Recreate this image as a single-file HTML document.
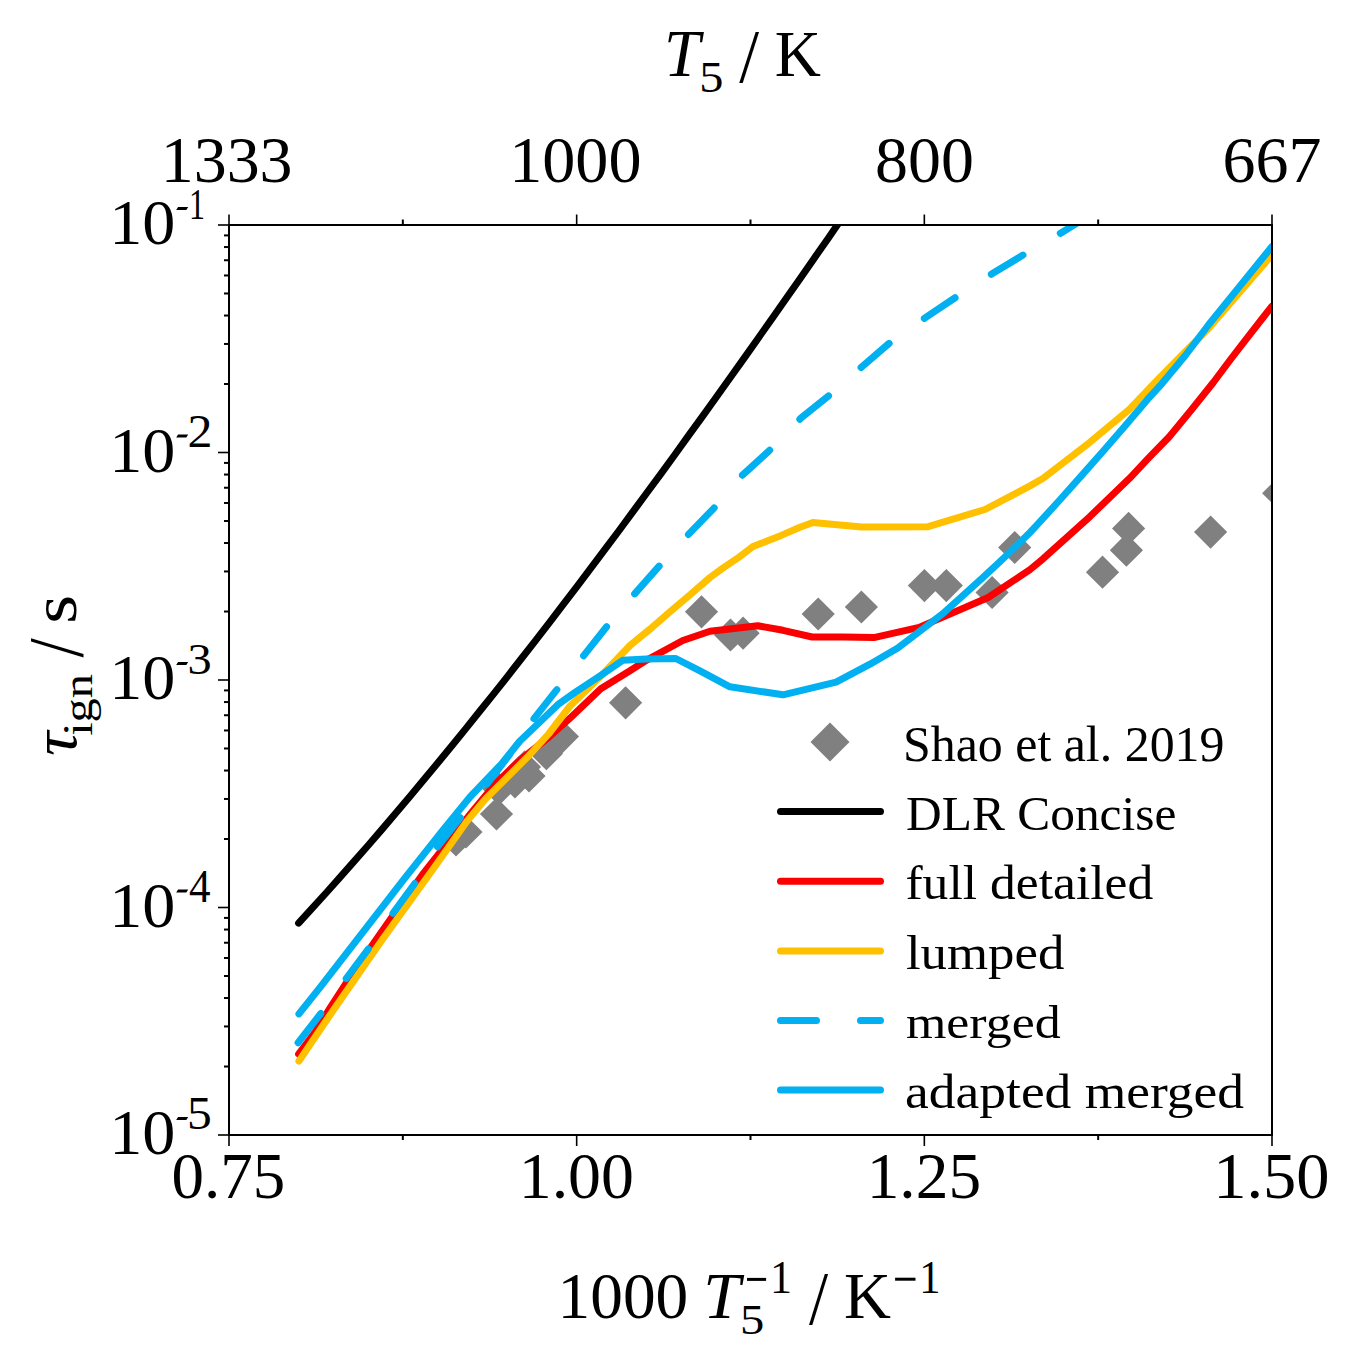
<!DOCTYPE html>
<html><head><meta charset="utf-8"><style>
html,body{margin:0;padding:0;background:#fff;}
svg{display:block;}
</style></head><body>
<svg width="1355" height="1364" viewBox="0 0 1355 1364">
<rect width="1355" height="1364" fill="#fff"/>
<defs><clipPath id="pc"><rect x="229.0" y="225.0" width="1043.0" height="910.0"/></clipPath></defs>
<g clip-path="url(#pc)">
<path d="M456.0 823.4 L472.6 840.0 L456.0 856.6 L439.4 840.0Z M466.0 815.4 L482.6 832.0 L466.0 848.6 L449.4 832.0Z M496.5 797.4 L513.1 814.0 L496.5 830.6 L479.9 814.0Z M499.0 772.4 L515.6 789.0 L499.0 805.6 L482.4 789.0Z M515.0 765.4 L531.6 782.0 L515.0 798.6 L498.4 782.0Z M524.5 750.4 L541.1 767.0 L524.5 783.6 L507.9 767.0Z M529.0 759.4 L545.6 776.0 L529.0 792.6 L512.4 776.0Z M546.4 737.1 L563.0 753.7 L546.4 770.3 L529.8 753.7Z M562.4 720.0 L579.0 736.6 L562.4 753.2 L545.8 736.6Z M625.6 686.2 L642.2 702.8 L625.6 719.4 L609.0 702.8Z M701.5 595.2 L718.1 611.8 L701.5 628.4 L684.9 611.8Z M730.5 618.4 L747.1 635.0 L730.5 651.6 L713.9 635.0Z M743.1 616.6 L759.7 633.2 L743.1 649.8 L726.5 633.2Z M818.2 597.4 L834.8 614.0 L818.2 630.6 L801.6 614.0Z M861.4 590.4 L878.0 607.0 L861.4 623.6 L844.8 607.0Z M924.4 569.0 L941.0 585.6 L924.4 602.2 L907.8 585.6Z M946.3 569.0 L962.9 585.6 L946.3 602.2 L929.7 585.6Z M992.1 575.9 L1008.7 592.5 L992.1 609.1 L975.5 592.5Z M1014.7 530.9 L1031.3 547.5 L1014.7 564.1 L998.1 547.5Z M1102.5 555.6 L1119.1 572.2 L1102.5 588.8 L1085.9 572.2Z M1126.4 533.6 L1143.0 550.2 L1126.4 566.8 L1109.8 550.2Z M1128.6 511.8 L1145.2 528.4 L1128.6 545.0 L1112.0 528.4Z M1210.6 515.5 L1227.2 532.1 L1210.6 548.7 L1194.0 532.1Z M1278.7 476.6 L1295.3 493.2 L1278.7 509.8 L1262.1 493.2Z" fill="#808080"/>
<path d="M298.6 923.1 L312.5 907.9 L326.5 892.5 L340.4 876.9 L354.3 861.1 L368.3 845.2 L382.2 829.1 L396.1 812.7 L410.1 796.3 L424.0 779.6 L437.9 762.8 L451.9 745.8 L465.8 728.6 L479.7 711.3 L493.7 693.9 L507.6 676.3 L521.5 658.5 L535.5 640.6 L549.4 622.6 L563.3 604.4 L577.3 586.1 L591.2 567.7 L605.1 549.1 L619.1 530.5 L633.0 511.7 L646.9 492.8 L660.9 473.8 L674.8 454.7 L688.7 435.4 L702.7 416.1 L716.6 396.7 L730.5 377.2 L744.5 357.6 L758.4 337.9 L772.3 318.2 L786.3 298.3 L800.2 278.4 L814.1 258.4 L828.1 238.4 L842.0 218.2" stroke="#000" fill="none" stroke-width="7" stroke-linecap="round" stroke-linejoin="round"/>
<path d="M298.6 1054.0 L315.3 1031.8 L329.8 1008.4 L347.6 981.0 L374.0 942.8 L390.8 918.7 L422.4 874.7 L470.4 814.0 L494.6 784.7 L520.0 760.0 L548.5 737.5 L570.0 718.2 L600.8 688.8 L630.0 670.8 L646.3 660.3 L682.8 640.5 L710.0 631.3 L729.9 629.0 L757.7 625.7 L783.0 630.3 L812.2 637.0 L842.8 637.0 L873.9 637.6 L919.1 627.4 L988.2 597.5 L1030.0 569.6 L1043.2 558.7 L1089.7 516.8 L1129.6 478.3 L1147.3 459.4 L1169.3 436.7 L1191.3 410.0 L1213.3 382.5 L1230.5 359.5 L1247.0 338.1 L1263.5 317.0 L1272.0 306.2" stroke="#FA0000" fill="none" stroke-width="7" stroke-linecap="round" stroke-linejoin="round"/>
<path d="M298.9 1061.1 L334.3 1008.7 L381.5 940.8 L435.8 865.3 L466.9 821.3 L485.2 799.3 L526.7 757.8 L548.6 734.0 L570.0 706.0 L600.0 677.0 L630.0 645.5 L649.8 629.3 L669.6 612.1 L689.4 595.3 L710.0 577.5 L722.1 568.6 L736.9 558.7 L753.0 546.5 L781.2 535.4 L800.0 527.3 L812.9 522.5 L861.6 527.0 L928.2 526.7 L985.0 509.5 L1030.0 485.9 L1043.2 478.3 L1089.7 442.4 L1129.6 409.2 L1157.5 380.0 L1185.0 352.0 L1208.8 328.3 L1235.2 297.5 L1272.0 255.0" stroke="#FFC000" fill="none" stroke-width="7" stroke-linecap="round" stroke-linejoin="round"/>
<path d="M298.1 1042.7 L321.7 1012.4 L346.8 977.7 L369.0 948.2 L393.3 912.8 L415.5 882.5 L436.9 847.6 L463.5 813.7 L487.0 784.0 L510.0 754.0 L534.0 718.6 L557.7 688.6 L583.7 655.6 L606.7 626.6 L634.0 594.6 L659.2 566.1 L688.2 534.7 L714.0 508.1 L740.0 477.4 L768.2 451.7 L801.0 418.0 L827.5 396.8 L862.1 366.6 L888.9 343.5 L925.4 317.6 L956.1 297.1 L991.6 274.1 L1024.2 254.3 L1060.6 233.2 L1090.0 215.0" stroke="#00B0F0" fill="none" stroke-width="7" stroke-linecap="round" stroke-linejoin="round" stroke-dasharray="37 43.2"/>
<path d="M298.9 1013.9 L319.5 988.1 L360.8 934.9 L404.4 878.6 L444.3 828.4 L470.0 797.0 L502.1 763.3 L519.7 741.3 L538.8 723.0 L557.8 704.7 L575.4 692.2 L600.8 675.4 L622.7 660.3 L646.3 659.1 L675.8 658.5 L700.0 670.9 L729.9 686.8 L783.0 694.8 L836.1 682.1 L870.0 664.2 L897.8 648.0 L943.0 613.5 L982.8 577.6 L1004.1 557.7 L1030.0 532.5 L1037.3 524.7 L1059.3 500.5 L1081.3 475.9 L1103.3 451.0 L1125.0 426.0 L1147.3 399.7 L1162.0 383.6 L1185.3 355.5 L1208.8 324.5 L1235.2 291.9 L1272.0 246.5" stroke="#00B0F0" fill="none" stroke-width="7" stroke-linecap="round" stroke-linejoin="round"/>
</g>
<rect x="229.0" y="225.0" width="1043.0" height="910.0" fill="none" stroke="#000" stroke-width="2"/>
<path d="M218 225.0 H229.0" stroke="#000" stroke-width="1.6"/>
<path d="M224 384.02 H229.0" stroke="#000" stroke-width="2"/>
<path d="M224 343.95 H229.0" stroke="#000" stroke-width="2"/>
<path d="M224 315.53 H229.0" stroke="#000" stroke-width="2"/>
<path d="M224 293.48 H229.0" stroke="#000" stroke-width="2"/>
<path d="M224 275.47 H229.0" stroke="#000" stroke-width="2"/>
<path d="M224 260.24 H229.0" stroke="#000" stroke-width="2"/>
<path d="M224 247.05 H229.0" stroke="#000" stroke-width="2"/>
<path d="M224 235.41 H229.0" stroke="#000" stroke-width="2"/>
<path d="M218 452.5 H229.0" stroke="#000" stroke-width="1.6"/>
<path d="M224 611.52 H229.0" stroke="#000" stroke-width="2"/>
<path d="M224 571.45 H229.0" stroke="#000" stroke-width="2"/>
<path d="M224 543.03 H229.0" stroke="#000" stroke-width="2"/>
<path d="M224 520.98 H229.0" stroke="#000" stroke-width="2"/>
<path d="M224 502.97 H229.0" stroke="#000" stroke-width="2"/>
<path d="M224 487.74 H229.0" stroke="#000" stroke-width="2"/>
<path d="M224 474.55 H229.0" stroke="#000" stroke-width="2"/>
<path d="M224 462.91 H229.0" stroke="#000" stroke-width="2"/>
<path d="M218 680.0 H229.0" stroke="#000" stroke-width="1.6"/>
<path d="M224 839.02 H229.0" stroke="#000" stroke-width="2"/>
<path d="M224 798.95 H229.0" stroke="#000" stroke-width="2"/>
<path d="M224 770.53 H229.0" stroke="#000" stroke-width="2"/>
<path d="M224 748.48 H229.0" stroke="#000" stroke-width="2"/>
<path d="M224 730.47 H229.0" stroke="#000" stroke-width="2"/>
<path d="M224 715.24 H229.0" stroke="#000" stroke-width="2"/>
<path d="M224 702.05 H229.0" stroke="#000" stroke-width="2"/>
<path d="M224 690.41 H229.0" stroke="#000" stroke-width="2"/>
<path d="M218 907.5 H229.0" stroke="#000" stroke-width="1.6"/>
<path d="M224 1066.52 H229.0" stroke="#000" stroke-width="2"/>
<path d="M224 1026.45 H229.0" stroke="#000" stroke-width="2"/>
<path d="M224 998.03 H229.0" stroke="#000" stroke-width="2"/>
<path d="M224 975.98 H229.0" stroke="#000" stroke-width="2"/>
<path d="M224 957.97 H229.0" stroke="#000" stroke-width="2"/>
<path d="M224 942.74 H229.0" stroke="#000" stroke-width="2"/>
<path d="M224 929.55 H229.0" stroke="#000" stroke-width="2"/>
<path d="M224 917.91 H229.0" stroke="#000" stroke-width="2"/>
<path d="M218 1135.0 H229.0" stroke="#000" stroke-width="1.6"/>
<path d="M229.00 1135.0 V1146" stroke="#000" stroke-width="1.6"/>
<path d="M229.00 225.0 V214.5" stroke="#000" stroke-width="1.6"/>
<path d="M576.67 1135.0 V1146" stroke="#000" stroke-width="1.6"/>
<path d="M576.67 225.0 V214.5" stroke="#000" stroke-width="1.6"/>
<path d="M924.33 1135.0 V1146" stroke="#000" stroke-width="1.6"/>
<path d="M924.33 225.0 V214.5" stroke="#000" stroke-width="1.6"/>
<path d="M1272.00 1135.0 V1146" stroke="#000" stroke-width="1.6"/>
<path d="M1272.00 225.0 V214.5" stroke="#000" stroke-width="1.6"/>
<path d="M402.83 1135.0 V1140" stroke="#000" stroke-width="2"/>
<path d="M402.83 225.0 V219.5" stroke="#000" stroke-width="2"/>
<path d="M750.50 1135.0 V1140" stroke="#000" stroke-width="2"/>
<path d="M750.50 225.0 V219.5" stroke="#000" stroke-width="2"/>
<path d="M1098.17 1135.0 V1140" stroke="#000" stroke-width="2"/>
<path d="M1098.17 225.0 V219.5" stroke="#000" stroke-width="2"/>
<path d="M830.0 722.5 L849.5 742.0 L830.0 761.5 L810.5 742.0Z" fill="#808080"/>
<path d="M780.5 811.4 H880.5" stroke="#000" stroke-width="7" stroke-linecap="round"/>
<path d="M780.5 881.2 H880.5" stroke="#FA0000" stroke-width="7" stroke-linecap="round"/>
<path d="M780.5 951.0 H880.5" stroke="#FFC000" stroke-width="7" stroke-linecap="round"/>
<path d="M780.5 1020.6 H816.5 M860.5 1020.6 H880.5" stroke="#00B0F0" stroke-width="7" stroke-linecap="round"/>
<path d="M780.5 1090.0 H880.5" stroke="#00B0F0" stroke-width="7" stroke-linecap="round"/>
<g fill="#000">
<text transform="translate(663.95,75.80) scale(0.9752,1)" font-size="66.59" font-family="'Liberation Serif', serif" font-style="italic">T</text>
<text transform="translate(699.19,92.38) scale(1.1131,1)" font-size="43.49" font-family="'Liberation Serif', serif">5</text>
<text transform="translate(739.30,81.96) scale(0.9440,1)" font-size="75.49" font-family="'Liberation Serif', serif">/</text>
<text transform="translate(774.86,75.80) scale(0.9607,1)" font-size="66.59" font-family="'Liberation Serif', serif">K</text>
<text transform="translate(160.81,182.06) scale(0.9992,1)" font-size="65.93" font-family="'Liberation Serif', serif">1333</text>
<text transform="translate(509.18,182.06) scale(1.0079,1)" font-size="65.65" font-family="'Liberation Serif', serif">1000</text>
<text transform="translate(874.99,182.06) scale(1.0046,1)" font-size="65.65" font-family="'Liberation Serif', serif">800</text>
<text transform="translate(1222.57,182.06) scale(1.0003,1)" font-size="65.93" font-family="'Liberation Serif', serif">667</text>
<text transform="translate(171.52,1198.07) scale(0.9927,1)" font-size="65.52" font-family="'Liberation Serif', serif">0.75</text>
<text transform="translate(518.71,1198.07) scale(1.0056,1)" font-size="65.52" font-family="'Liberation Serif', serif">1.00</text>
<text transform="translate(866.65,1198.07) scale(0.9944,1)" font-size="65.80" font-family="'Liberation Serif', serif">1.25</text>
<text transform="translate(1213.16,1198.07) scale(1.0150,1)" font-size="65.52" font-family="'Liberation Serif', serif">1.50</text>
<text transform="translate(109.19,244.18) scale(1.0354,1)" font-size="63.87" font-family="'Liberation Serif', serif">10</text>
<path d="M176.2 209.9 L186.3 209.9 L188.2 207.1 L178.1 207.1Z"/>
<text transform="translate(188.98,218.70) scale(0.7134,1)" font-size="44.99" font-family="'Liberation Serif', serif">1</text>
<text transform="translate(109.19,471.68) scale(1.0354,1)" font-size="63.87" font-family="'Liberation Serif', serif">10</text>
<path d="M176.2 437.4 L186.3 437.4 L188.2 434.6 L178.1 434.6Z"/>
<text transform="translate(187.61,446.70) scale(1.0938,1)" font-size="45.61" font-family="'Liberation Serif', serif">2</text>
<text transform="translate(109.19,699.18) scale(1.0354,1)" font-size="63.87" font-family="'Liberation Serif', serif">10</text>
<path d="M176.2 664.9 L186.3 664.9 L188.2 662.1 L178.1 662.1Z"/>
<text transform="translate(187.48,673.76) scale(1.0771,1)" font-size="44.95" font-family="'Liberation Serif', serif">3</text>
<text transform="translate(109.19,926.68) scale(1.0354,1)" font-size="63.87" font-family="'Liberation Serif', serif">10</text>
<path d="M176.2 892.4 L186.3 892.4 L188.2 889.6 L178.1 889.6Z"/>
<text transform="translate(188.96,901.70) scale(0.9377,1)" font-size="45.88" font-family="'Liberation Serif', serif">4</text>
<text transform="translate(109.19,1154.18) scale(1.0354,1)" font-size="63.87" font-family="'Liberation Serif', serif">10</text>
<path d="M176.2 1119.9 L186.3 1119.9 L188.2 1117.1 L178.1 1117.1Z"/>
<text transform="translate(186.92,1128.76) scale(1.0925,1)" font-size="45.44" font-family="'Liberation Serif', serif">5</text>
<text transform="translate(557.55,1317.97) scale(1.0117,1)" font-size="64.61" font-family="'Liberation Serif', serif">1000</text>
<text transform="translate(703.33,1318.20) scale(1.0188,1)" font-size="65.52" font-family="'Liberation Serif', serif" font-style="italic">T</text>
<rect x="747" y="1277.9" width="19.1" height="3" fill="#000"/>
<text transform="translate(770.03,1292.90) scale(0.9376,1)" font-size="46.96" font-family="'Liberation Serif', serif">1</text>
<text transform="translate(740.07,1334.28) scale(1.1385,1)" font-size="42.74" font-family="'Liberation Serif', serif">5</text>
<text transform="translate(809.00,1324.16) scale(0.9035,1)" font-size="76.09" font-family="'Liberation Serif', serif">/</text>
<text transform="translate(843.93,1318.00) scale(0.9898,1)" font-size="65.67" font-family="'Liberation Serif', serif">K</text>
<rect x="895.1" y="1277.7" width="20.4" height="3" fill="#000"/>
<text transform="translate(919.26,1293.00) scale(0.9073,1)" font-size="46.96" font-family="'Liberation Serif', serif">1</text>
<g transform="translate(75.8,760) rotate(-90)"><text transform="translate(3.89,0.00) scale(1.0848,1)" font-size="63.18" font-family="'Liberation Serif', serif" font-style="italic">τ</text></g>
<g transform="translate(75.8,760) rotate(-90)"><text transform="translate(24.18,15.80) scale(1.1405,1)" font-size="42.44" font-family="'Liberation Serif', serif">ign</text></g>
<g transform="translate(75.8,760) rotate(-90)"><text transform="translate(102.40,6.54) scale(0.8856,1)" font-size="78.03" font-family="'Liberation Serif', serif">/</text></g>
<g transform="translate(75.8,760) rotate(-90)"><text transform="translate(136.36,-0.02) scale(1.1752,1)" font-size="63.00" font-family="'Liberation Serif', serif">s</text></g>
<text transform="translate(902.96,760.70) scale(1.0067,1)" font-size="49.58" font-family="'Liberation Serif', serif">Shao et al. 2019</text>
<text transform="translate(906.08,829.80) scale(1.0226,1)" font-size="48.33" font-family="'Liberation Serif', serif">DLR Concise</text>
<text transform="translate(905.41,899.00) scale(1.0815,1)" font-size="47.72" font-family="'Liberation Serif', serif">full detailed</text>
<text transform="translate(905.94,969.00) scale(1.0938,1)" font-size="48.28" font-family="'Liberation Serif', serif">lumped</text>
<text transform="translate(905.91,1038.00) scale(1.1053,1)" font-size="46.98" font-family="'Liberation Serif', serif">merged</text>
<text transform="translate(905.12,1107.60) scale(1.1208,1)" font-size="47.70" font-family="'Liberation Serif', serif">adapted merged</text>
</g>
</svg>
</body></html>
